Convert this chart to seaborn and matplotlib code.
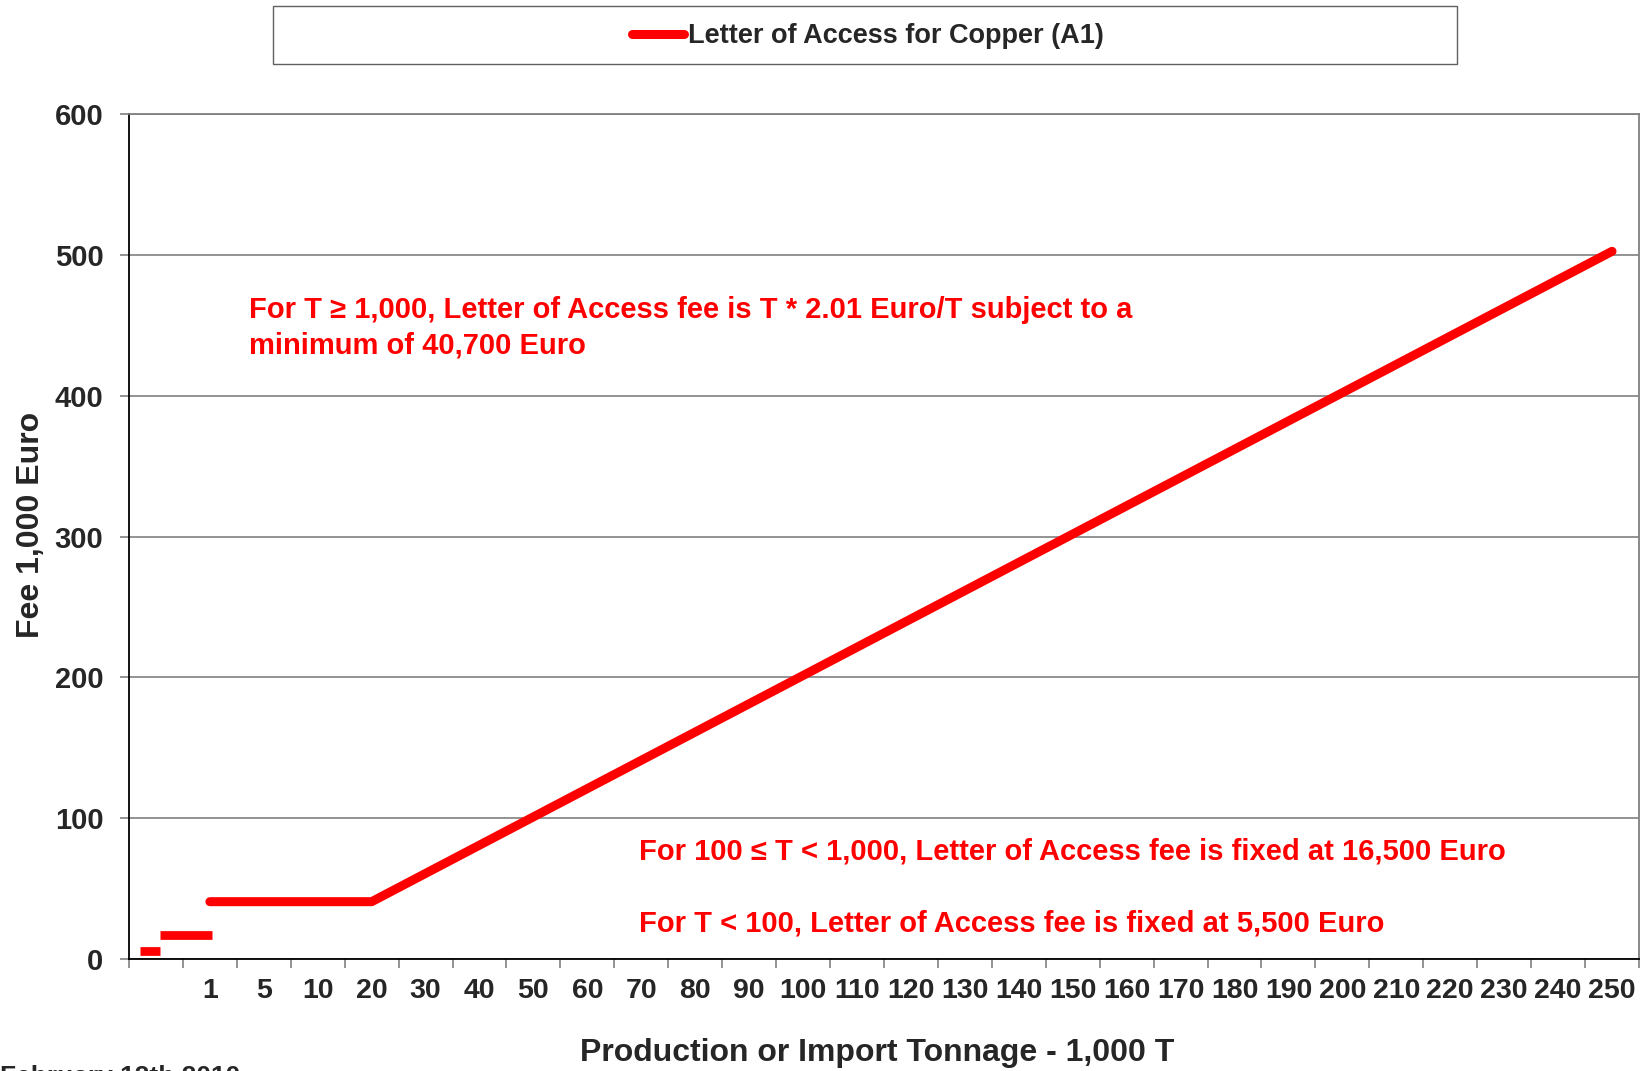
import numpy as np
import pandas as pd
import matplotlib
matplotlib.use("Agg")
import matplotlib.pyplot as plt
from matplotlib.patches import Rectangle
import seaborn as sns

# ---- data ----
categories = ["", "1", "5", "10", "20", "30", "40", "50", "60", "70", "80", "90",
              "100", "110", "120", "130", "140", "150", "160", "170", "180", "190",
              "200", "210", "220", "230", "240", "250"]
fee_categories = ["1", "20", "250"]
fee_values = [40.7, 40.7, 502.5]
# small fixed-fee steps (start/end in category-axis units)
step_start = [-0.3, 0.08]
step_end = [0.08, 1.03]
step_fees = [5.5, 17.0]
series_label = "Letter of Access for Copper (A1)"
y_ticks = [0, 100, 200, 300, 400, 500, 600]

RED = "#FF0000"
GRAY = "#808080"
W, H = 1645, 1071

sns.set_style("white")
plt.rcParams["font.family"] = ["Liberation Sans", "DejaVu Sans"]
plt.rcParams["font.weight"] = "bold"

fig = plt.figure(figsize=(W / 100, H / 100), dpi=100)
ax = fig.add_axes([129 / W, 1 - 959 / H, 1510 / W, 845 / H])

main_df = pd.DataFrame({"x": [categories.index(c) for c in fee_categories],
                        "fee": fee_values})
step_df = pd.DataFrame({
    "seg": [i for i in range(len(step_fees)) for _ in range(2)],
    "x": [v for a, b in zip(step_start, step_end) for v in (a, b)],
    "fee": [f for f in step_fees for _ in range(2)],
})

sns.lineplot(data=step_df, x="x", y="fee", units="seg", estimator=None, ax=ax,
             color=RED, lw=6.3, solid_capstyle="butt", legend=False)
sns.lineplot(data=main_df, x="x", y="fee", ax=ax, color=RED, lw=6.5,
             solid_capstyle="round", legend=False)
main_line = ax.get_lines()[-1]

ax.set_xlim(-0.5, len(categories) - 0.5)
ax.set_ylim(0, 600)
ax.set_xlabel("")
ax.set_ylabel("")

ax.set_yticks(y_ticks)
ax.set_yticklabels([str(v) for v in y_ticks], fontsize=21, fontweight="bold")
ax.set_xticks(range(len(categories)))
ax.set_xticklabels(categories, fontsize=20.5, fontweight="bold")
ax.set_xticks(np.arange(-0.5, len(categories), 1.0), minor=True)
ax.tick_params(axis="x", which="major", length=0, pad=13.5)
ax.tick_params(axis="x", which="minor", length=6.5, color=GRAY, width=1.2)
ax.tick_params(axis="y", which="major", length=6.5, color=GRAY, width=1.2, pad=12)
ax.tick_params(left=True, bottom=True)
ax.xaxis.set_tick_params(which="minor", bottom=True)

ax.yaxis.grid(True, color=GRAY, lw=1.2)
ax.xaxis.grid(False)
ax.set_axisbelow(True)

for side in ["top", "right"]:
    ax.spines[side].set_color(GRAY)
    ax.spines[side].set_linewidth(1.3)
for side in ["left", "bottom"]:
    ax.spines[side].set_color("black")
    ax.spines[side].set_linewidth(1.3)

# axis titles
fig.text(31 / W, 1 - 525 / H, "Fee 1,000 Euro", rotation=90, ha="center",
         va="center", fontsize=23, fontweight="bold")
fig.text(877 / W, 1 - 1053 / H, "Production or Import Tonnage - 1,000 T",
         ha="center", va="center", fontsize=23, fontweight="bold")

# legend with box
fig.patches.append(Rectangle((273 / W, 1 - 64 / H), (1457 - 273) / W, 58 / H,
                             transform=fig.transFigure, fill=False,
                             edgecolor="#606060", lw=1.0))
fig.legend([main_line], [series_label], loc="center",
           bbox_to_anchor=(868 / W, 1 - 36 / H), frameon=False,
           prop={"size": 19.5, "weight": "bold"}, handlelength=1.9,
           handletextpad=0.15)

# annotations
fig.text(249 / W, 1 - 328 / H,
         "For T \u2265 1,000, Letter of Access fee is T * 2.01 Euro/T subject to a\nminimum of 40,700 Euro",
         ha="left", va="center", color=RED, fontsize=21, fontweight="bold",
         linespacing=1.33)
fig.text(639 / W, 1 - 852 / H,
         "For 100 \u2264 T < 1,000, Letter of Access fee is fixed at 16,500 Euro",
         ha="left", va="center", color=RED, fontsize=21, fontweight="bold")
fig.text(639 / W, 1 - 923 / H,
         "For T < 100, Letter of Access fee is fixed at 5,500 Euro",
         ha="left", va="center", color=RED, fontsize=21, fontweight="bold")

# cut-off footer (cut off at the bottom edge, as in the source)
fig.text(0, 1 - 1065 / H, "February 12th 2010", ha="left", va="top",
         fontsize=19, fontweight="bold")

fig.savefig("out.png", dpi=100)
